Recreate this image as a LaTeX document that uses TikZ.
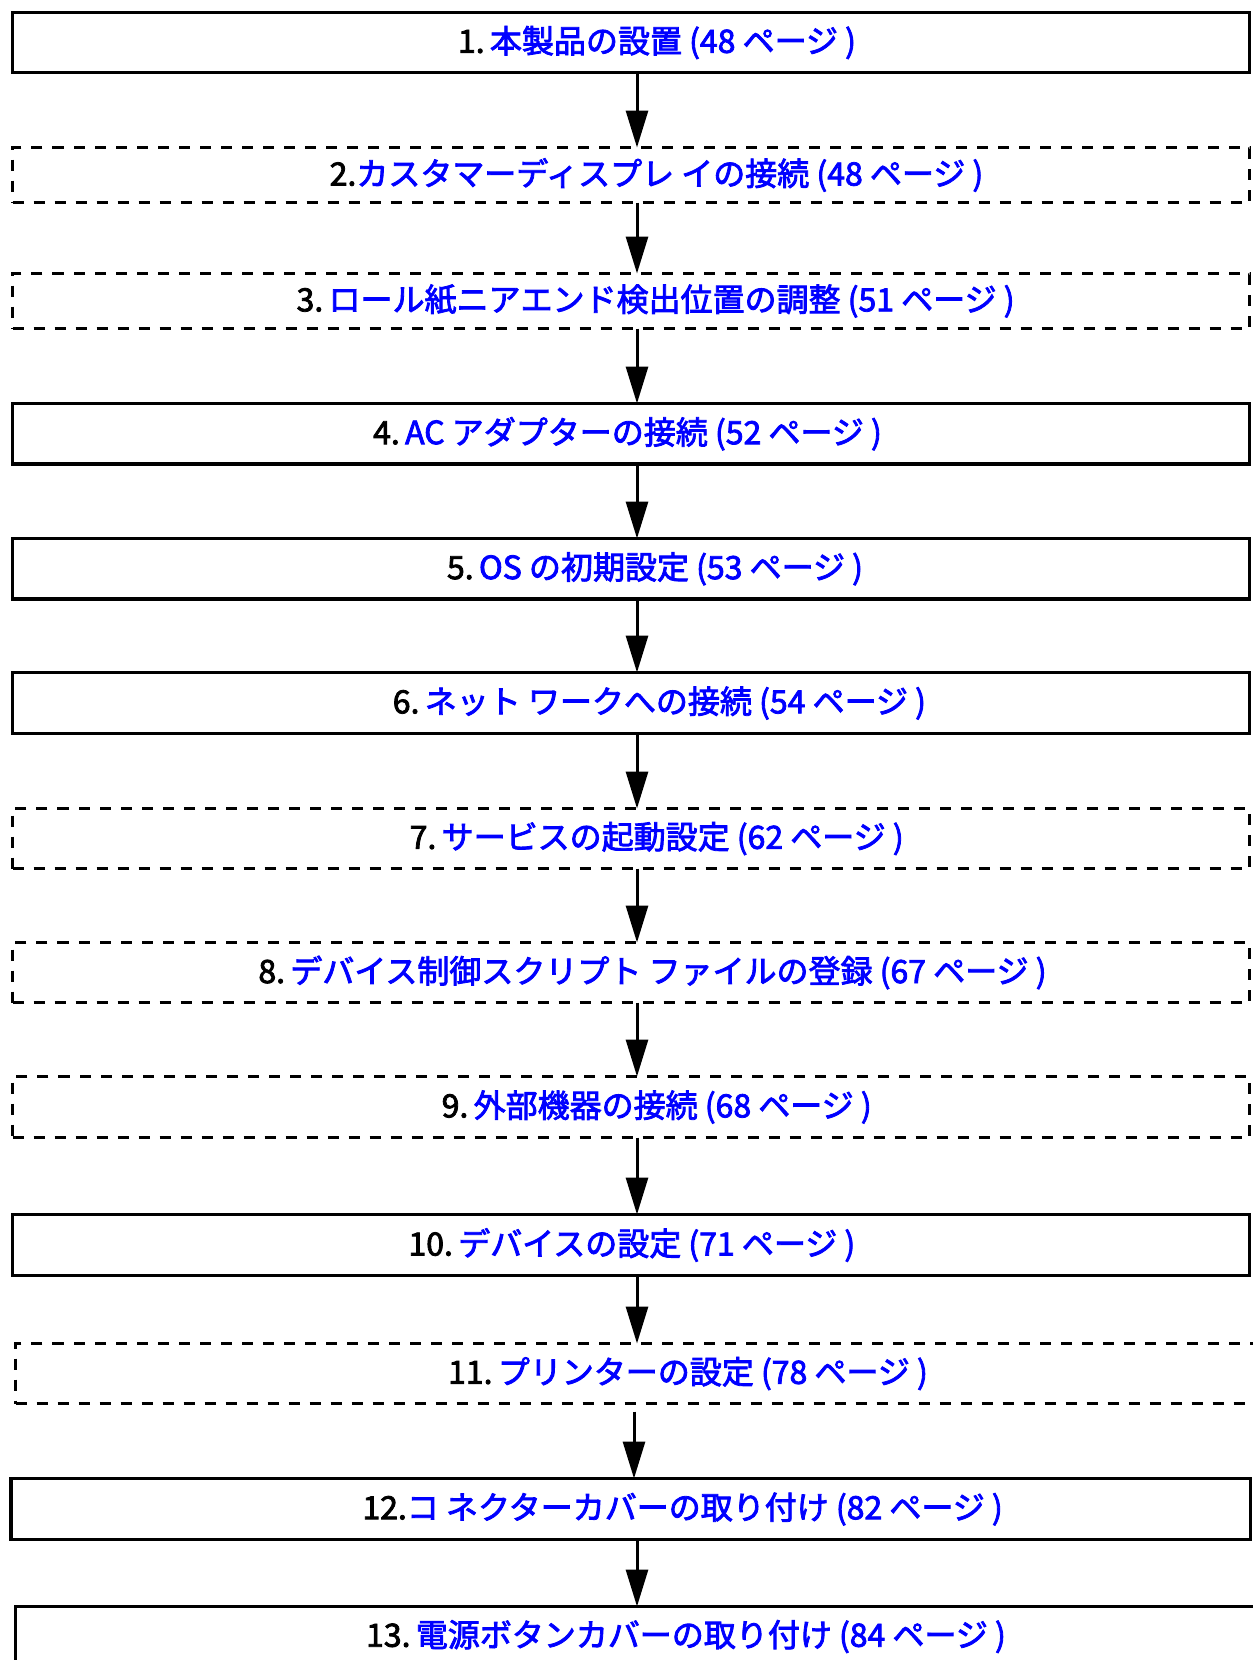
\documentclass[tikz,border=0pt]{standalone}
\usepackage{fontspec}
\usetikzlibrary{arrows.meta}
\newfontfamily\jpf{Noto Sans CJK JP}[FakeBold=2.5]
\definecolor{refblue}{RGB}{0,0,255}
\newcommand{\fstep}[2]{\textcolor{black}{#1}\textcolor{refblue}{#2}}
\tikzset{
  solidbox/.style={draw=black, line width=3.4pt, rectangle, inner sep=0pt, outer sep=0pt, minimum width=1237pt},
  dashbox/.style={solidbox, line width=3.2pt, dash pattern=on 11pt off 10pt},
  steptext/.style={inner sep=0pt, font=\jpf\fontsize{32pt}{36pt}\selectfont},
  flow/.style={line width=3pt, -{Triangle[length=37pt,width=22pt]}}
}
\begin{document}
\begin{tikzpicture}[x=1pt,y=-1pt]
\useasboundingbox (0,0) rectangle (1253,1660);
\clip (0,0) rectangle (1253,1660);
\coordinate (ax) at (637,0);
\coordinate (bx) at (634,0);
% boxes
\node[solidbox, minimum height=60pt]   (b1)  at (631,42.5) {};
\node[dashbox,  minimum height=55pt]   (b2)  at (631,175) {};
\node[dashbox,  minimum height=55pt]   (b3)  at (631,301) {};
\node[solidbox, minimum height=60.5pt] (b4)  at (631,433.75) {};
\node[solidbox, minimum height=60.5pt] (b5)  at (631,568.75) {};
\node[solidbox, minimum height=61pt]   (b6)  at (631,703) {};
\node[dashbox,  minimum height=60pt]   (b7)  at (631,838.5) {};
\node[dashbox,  minimum height=60pt]   (b8)  at (631,972.5) {};
\node[dashbox,  minimum height=61pt]   (b9)  at (631,1107) {};
\node[solidbox, minimum height=61pt]   (b10) at (631,1245) {};
\node[dashbox,  minimum height=60pt, minimum width=1254pt] (b11) at (642.5,1373.5) {};
\node[solidbox, minimum height=61pt, minimum width=1239.5pt] (b12) at (630.75,1509) {};
\node[solidbox, minimum height=60pt, minimum width=1254pt] (b13) at (642.5,1636.5) {};
% texts
\node[steptext] (t1)  at (657,42.5)   {\fstep{1.}{\,本製品の設置 (48 ページ )}};
\node[steptext] (t2)  at (656.5,175)  {\fstep{2.}{カスタマーディスプレ イの接続 (48 ページ )}};
\node[steptext] (t3)  at (655.6,301)  {\fstep{3.}{\,ロール紙ニアエンド検出位置の調整 (51 ページ )}};
\node[steptext] (t4)  at (627.5,433.75) {\fstep{4.}{\,AC アダプターの接続 (52 ページ )}};
\node[steptext] (t5)  at (655,568.75) {\fstep{5.}{\,OS の初期設定 (53 ページ )}};
\node[steptext] (t6)  at (659.4,703)  {\fstep{6.}{\,ネット ワークへの接続 (54 ページ )}};
\node[steptext] (t7)  at (656.7,838.5) {\fstep{7.}{\,サービスの起動設定 (62 ページ )}};
\node[steptext] (t8)  at (652.5,972.5) {\fstep{8.}{\,デバイス制御スクリプト ファイルの登録 (67 ページ )}};
\node[steptext] (t9)  at (656.7,1107) {\fstep{9.}{\,外部機器の接続 (68 ページ )}};
\node[steptext] (t10) at (631.9,1245) {\fstep{10.}{\,デバイスの設定 (71 ページ )}};
\node[steptext] (t11) at (688,1373.5) {\fstep{11.}{\,プリンターの設定 (78 ページ )}};
\node[steptext] (t12) at (682.6,1509) {\fstep{12.}{コ ネクターカバーの取り付け (82 ページ )}};
\node[steptext] (t13) at (686,1636.5) {\fstep{13.}{\,電源ボタンカバーの取り付け (84 ページ )}};
% connectors
\draw[flow] (b1.south -| ax)  -- (b2.north -| ax);
\draw[flow] (b2.south -| ax)  -- (b3.north -| ax);
\draw[flow] (b3.south -| ax)  -- (b4.north -| ax);
\draw[flow] (b4.south -| ax)  -- (b5.north -| ax);
\draw[flow] (b5.south -| ax)  -- (b6.north -| ax);
\draw[flow] (b6.south -| ax)  -- (b7.north -| ax);
\draw[flow] (b7.south -| ax)  -- (b8.north -| ax);
\draw[flow] (b8.south -| ax)  -- (b9.north -| ax);
\draw[flow] (b9.south -| ax)  -- (b10.north -| ax);
\draw[flow] (b10.south -| ax) -- (b11.north -| ax);
\draw[flow, shorten <=8pt] (b11.south -| bx) -- (b12.north -| bx);
\draw[flow] (b12.south -| ax) -- (b13.north -| ax);
\end{tikzpicture}
\end{document}
